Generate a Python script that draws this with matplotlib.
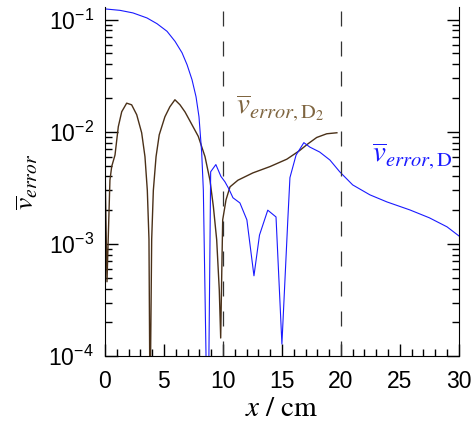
import matplotlib
matplotlib.use('Agg')
import matplotlib.pyplot as plt
import numpy as np

plt.rcParams['font.family'] = 'Liberation Sans'
plt.rcParams['mathtext.fontset'] = 'stix'

# blue curve: v_error,D
x_d = [0.0, 1.27, 2.37, 3.56, 4.41, 5.26, 5.94, 6.53, 6.96, 7.38, 7.72, 7.97,
       8.2, 8.34, 8.72, 8.96, 9.4, 9.83, 10.17, 10.5, 10.85, 11.44, 12.03,
       12.63, 13.1, 13.8, 14.5, 15.0, 15.5, 15.68, 16.2, 16.86, 17.37, 18.2,
       19.07, 19.9, 21.0, 22.46, 23.9, 25.85, 27.5, 29.0, 30.0]
v_d = [0.1246, 0.121, 0.1148, 0.1035, 0.092, 0.0787, 0.064, 0.0507, 0.0396,
       0.0291, 0.0205, 0.0136, 0.0065, 0.003, 1e-5, 0.0044, 0.0051, 0.0040,
       0.00358, 0.0031, 0.00258, 0.00232, 0.00164, 0.00052, 0.0012, 0.0020,
       0.00174, 0.000128, 0.00164, 0.0039, 0.0062, 0.0080, 0.0073, 0.0066,
       0.0056, 0.0044, 0.00336, 0.00274, 0.00237, 0.00201, 0.00171, 0.00142,
       0.00118]

# brown curve: v_error,D2
x_d2 = [0.0, 0.17, 0.42, 0.57, 0.85, 1.13, 1.42, 1.84, 2.26, 2.69, 3.11, 3.39,
        3.59, 3.73, 3.82, 3.96, 4.1, 4.33, 4.6, 5.08, 5.5, 5.93, 6.36, 6.79,
        7.2, 7.91, 8.48, 8.9, 9.19, 9.47, 9.69, 9.81, 9.9, 9.98, 10.26, 10.6,
        11.27, 12.54, 14.0, 15.42, 16.5, 17.2, 17.95, 18.8, 19.66]
v_d2 = [0.0054, 0.00046, 0.0037, 0.0049, 0.0062, 0.0111, 0.0151, 0.018,
        0.0174, 0.0142, 0.0098, 0.006, 0.003, 0.0011, 3e-5, 0.0011, 0.003,
        0.006, 0.0094, 0.0136, 0.0167, 0.0193, 0.0174, 0.015, 0.0125, 0.0091,
        0.006, 0.0037, 0.00215, 0.00109, 0.00039, 0.000145, 0.00055, 0.00164,
        0.00247, 0.00323, 0.0037, 0.0043, 0.0049, 0.0057, 0.0068, 0.0078,
        0.0089, 0.0096, 0.0098]

region_edges = [10, 20]

fig = plt.figure(figsize=(4.75, 4.28), dpi=100)
ax = fig.add_axes([0.221, 0.168, 0.745, 0.816])

ax.plot(x_d2, v_d2, color='#4a3018', linewidth=1.0)
ax.plot(x_d, v_d, color='#1a1aff', linewidth=0.8)
for xe in region_edges:
    ax.axvline(xe, color='#333333', linewidth=0.9, linestyle=(0, (12, 12)))

ax.set_yscale('log')
ax.set_xlim(0, 30)
ax.set_ylim(1e-4, 0.13)
ax.set_xticks([0, 5, 10, 15, 20, 25, 30])
ax.set_xticks(np.arange(0, 31, 1), minor=True)
ax.set_yticks([1e-4, 1e-3, 1e-2, 1e-1])
ax.set_yticklabels([r'$\mathregular{10^{-4}}$', r'$\mathregular{10^{-3}}$',
                    r'$\mathregular{10^{-2}}$', r'$\mathregular{10^{-1}}$'])
ax.tick_params(which='both', direction='in', top=False, right=True,
               labelsize=16.5)
ax.tick_params(axis='x', pad=10)
ax.tick_params(axis='y', pad=8)
ax.tick_params(which='major', length=9, width=1)
ax.tick_params(which='minor', length=5, width=1)
ax.spines['top'].set_visible(False)

ax.set_xlabel(r'$x\ /\ \mathrm{cm}$', fontsize=21, labelpad=1)
ax.set_ylabel(r'$\overline{v}_{error}$', fontsize=20, labelpad=6)

ax.text(11.1, 0.0142, r'$\overline{v}_{error,\mathrm{D}_2}$', color='#7f6540',
        fontsize=21)
ax.text(22.65, 0.0053, r'$\overline{v}_{error,\mathrm{D}}$', color='#1a1aff',
        fontsize=21)

plt.savefig('out.png', dpi=100)
